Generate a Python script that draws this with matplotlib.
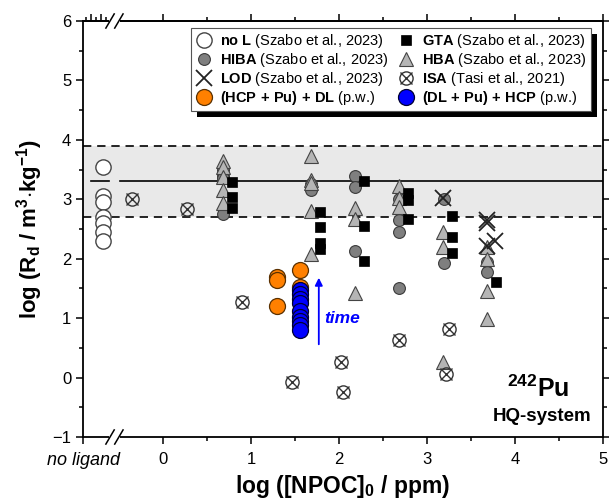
import numpy as np
import matplotlib
matplotlib.use("Agg")
import matplotlib.pyplot as plt
from matplotlib.patches import Rectangle
from matplotlib.transforms import IdentityTransform

plt.rcParams['font.family'] = ['Liberation Sans', 'DejaVu Sans']
plt.rcParams['mathtext.fontset'] = 'custom'
plt.rcParams['mathtext.rm'] = 'Liberation Sans'
plt.rcParams['mathtext.it'] = 'Liberation Sans:italic'
plt.rcParams['mathtext.bf'] = 'Liberation Sans:bold'

# ---- data: log Rd vs log [NPOC]0 ----
noL_x = [-0.68, -0.68, -0.68, -0.68, -0.68, -0.68, -0.68]
noL_y = [3.55, 3.05, 2.95, 2.70, 2.60, 2.45, 2.30]

hiba_x = [0.68, 0.68, 0.68, 0.68, 1.68, 1.68, 2.18, 2.18, 2.18,
          2.68, 2.68, 2.68, 2.68, 3.19, 3.19, 3.68, 3.68]
hiba_y = [3.50, 3.40, 3.35, 2.75, 3.25, 3.15, 3.40, 3.20, 2.13,
          3.00, 2.65, 2.45, 1.50, 3.00, 1.93, 1.95, 1.78]

gta_x = [0.78, 0.78, 0.78, 1.78, 1.78, 1.78, 1.78, 2.28, 2.28, 2.28,
         2.78, 2.78, 2.78, 3.28, 3.28, 3.28, 3.78]
gta_y = [3.29, 3.04, 2.85, 2.78, 2.53, 2.27, 2.17, 3.30, 2.55, 1.96,
         3.10, 2.98, 2.67, 2.72, 2.37, 2.10, 1.61]

hba_x = [0.68, 0.68, 0.68, 0.68, 0.68, 1.68, 1.68, 1.68, 1.68, 1.68,
         2.18, 2.18, 2.18, 2.68, 2.68, 2.68, 3.18, 3.18, 3.18,
         3.68, 3.68, 3.68, 3.68]
hba_y = [3.65, 3.55, 3.37, 3.15, 2.93, 3.72, 3.32, 3.28, 2.80, 2.08,
         2.85, 2.66, 1.43, 3.22, 3.03, 2.87, 2.45, 2.20, 0.26,
         2.20, 2.00, 1.45, 0.98]

lod_x = [3.18, 3.68, 3.68, 3.68, 3.77]
lod_y = [3.03, 2.65, 2.60, 2.22, 2.30]

isa_x = [-0.35, 0.27, 0.90, 1.47, 2.02, 2.04, 2.68, 3.25, 3.22]
isa_y = [3.00, 2.84, 1.27, -0.07, 0.26, -0.24, 0.63, 0.82, 0.06]

hcp_dl_x = [1.30, 1.30, 1.30, 1.56, 1.56]
hcp_dl_y = [1.70, 1.65, 1.20, 1.81, 1.53]

dl_hcp_x = [1.56, 1.56, 1.56, 1.56, 1.56, 1.56, 1.56, 1.56, 1.56]
dl_hcp_y = [1.47, 1.40, 1.33, 1.25, 1.12, 1.02, 0.95, 0.88, 0.80]

# reference level (solid) and its band (dashed)
rd_mean = 3.3
rd_low, rd_high = 2.7, 3.9

x_left = -0.91
xtick_pos = [x_left, 0, 1, 2, 3, 4, 5]
xtick_lab = ['no ligand', '0', '1', '2', '3', '4', '5']

fig = plt.figure(figsize=(6.09, 5.00), dpi=100)
ax = fig.add_axes([83/609, 1-437/500, 520/609, 416/500])

ax.set_xlim(x_left, 5)
ax.set_ylim(-1, 6)

# band + lines
ax.axhspan(rd_low, rd_high, color='#e9e9e9', zorder=0, lw=0)
ax.axhline(rd_low, color='k', ls=(0, (5, 3.5)), lw=1.2, zorder=1)
ax.axhline(rd_high, color='k', ls=(0, (5, 3.5)), lw=1.2, zorder=1)
ax.plot([-0.82, -0.62], [rd_mean, rd_mean], color='k', lw=1.2, zorder=1)
ax.plot([-0.49, 5], [rd_mean, rd_mean], color='k', lw=1.2, zorder=1)

# series
h_noL, = ax.plot(noL_x, noL_y, 'o', ms=11, mfc='white', mec='#444444', mew=1.0, zorder=3, ls='none')
h_hiba, = ax.plot(hiba_x, hiba_y, 'o', ms=8.5, mfc='#7f7f7f', mec='#3a3a3a', mew=0.8, zorder=3, ls='none')
h_hba, = ax.plot(hba_x, hba_y, '^', ms=9.5, mfc='#b5b5b5', mec='#444444', mew=0.8, zorder=4, ls='none')
h_gta, = ax.plot(gta_x, gta_y, 's', ms=7.5, mfc='black', mec='black', mew=0.5, zorder=4, ls='none')
h_lod, = ax.plot(lod_x, lod_y, 'x', ms=11.5, color='#222222', mew=1.3, zorder=5, ls='none')
h_isa_o, = ax.plot(isa_x, isa_y, 'o', ms=9.5, mfc='none', mec='#333333', mew=1.0, zorder=5, ls='none')
h_isa_x, = ax.plot(isa_x, isa_y, 'x', ms=8, color='#333333', mew=1.0, zorder=5, ls='none')
h_or, = ax.plot(hcp_dl_x, hcp_dl_y, 'o', ms=11.5, mfc='#ff8000', mec='#5a3000', mew=0.9, zorder=5, ls='none')
h_bl, = ax.plot(dl_hcp_x, dl_hcp_y, 'o', ms=11.5, mfc='#0000ff', mec='#000033', mew=0.9, zorder=6, ls='none')

# time arrow
ax.annotate('', xy=(1.77, 1.68), xytext=(1.77, 0.56),
            arrowprops=dict(arrowstyle='-|>', color='#0000ff', lw=1.3, mutation_scale=11,
                            shrinkA=0, shrinkB=0), zorder=6)
ax.text(1.83, 1.0, 'time', color='#0000ff', fontsize=12.5, fontweight='bold',
        fontstyle='italic', ha='left', va='center')

# annotations
ax.text(4.26, -0.33, r'$^{\mathbf{242}}$Pu', fontsize=18, fontweight='bold',
        ha='center', va='baseline')
ax.text(4.31, -0.73, 'HQ-system', fontsize=13.5, fontweight='bold',
        ha='center', va='baseline')

# axes & ticks
ax.set_xticks(xtick_pos)
ax.set_xticklabels(xtick_lab)
ax.set_xticks([0.5, 1.5, 2.5, 3.5, 4.5], minor=True)
ax.set_yticks(np.arange(-1, 7, 1))
ax.set_yticks(np.arange(-0.5, 6, 1), minor=True)
ax.set_yticklabels(['\u22121', '0', '1', '2', '3', '4', '5', '6'])
ax.tick_params(which='both', direction='out', width=1.1, labelsize=12, right=True)
ax.tick_params(which='major', length=5)
ax.tick_params(which='minor', length=3)
ax.tick_params(axis='x', pad=6)
nl = ax.get_xticklabels()[0]
nl.set_fontstyle('italic')
nl.set_fontsize(13)
for sp in ax.spines.values():
    sp.set_linewidth(1.3)

top = ax.secondary_xaxis('top')
top.set_xticks([-0.82, -0.70, 0, 1, 2, 3, 4, 5])
top.set_xticks([-0.875, -0.76, -0.65, 0.5, 1.5, 2.5, 3.5, 4.5], minor=True)
top.tick_params(which='both', direction='out', width=1.1, labeltop=False)
top.tick_params(which='major', length=5)
top.tick_params(which='minor', length=3)
top.spines['top'].set_linewidth(1.3)

ax.set_xlabel(r'log ([NPOC]$_{\mathbf{0}}$ / ppm)', fontsize=16.5, fontweight='bold', labelpad=3)
ax.set_ylabel(r'log (R$_{\mathbf{d}}$ / m$^{\mathbf{3}}$$\cdot$kg$^{\mathbf{-1}}$)',
              fontsize=16, fontweight='bold', labelpad=5)

# axis break marks on bottom and top spines
for yb in (0, 1):
    ax.plot([0.050, 0.072], [yb, yb], transform=ax.transAxes, color='white', lw=4,
            clip_on=False, zorder=10, solid_capstyle='butt')
    for xb in (0.052, 0.069):
        ax.plot([xb - 0.008, xb + 0.008], [yb - 0.017, yb + 0.017], transform=ax.transAxes,
                color='k', lw=1.1, clip_on=False, zorder=11)

# legend
lab = [r'$\mathbf{no\ L}$ (Szabo et al., 2023)',
       r'$\mathbf{HIBA}$ (Szabo et al., 2023)',
       r'$\mathbf{LOD}$ (Szabo et al., 2023)',
       r'$\mathbf{(HCP\,+\,Pu)\,+\,DL}$ (p.w.)',
       r'$\mathbf{GTA}$ (Szabo et al., 2023)',
       r'$\mathbf{HBA}$ (Szabo et al., 2023)',
       r'$\mathbf{ISA}$ (Tasi et al., 2021)',
       r'$\mathbf{(DL\,+\,Pu)\,+\,HCP}$ (p.w.)']
hnd = [h_noL, h_hiba, h_lod, h_or, h_gta, h_hba, (h_isa_o, h_isa_x), h_bl]
leg = ax.legend(hnd, lab, ncol=2, loc='upper right', bbox_to_anchor=(0.977, 0.983),
                fontsize=10.5, frameon=True, fancybox=False, edgecolor='#555555',
                framealpha=1, borderpad=0.3, labelspacing=0.05, handlelength=1.2,
                handletextpad=0.5, columnspacing=0.6, borderaxespad=0, numpoints=1)
leg.get_frame().set_linewidth(0.8)
leg.set_zorder(20)

fig.canvas.draw()
bb = leg.get_window_extent()
shadow = Rectangle((bb.x0 + 6, bb.y0 - 6), bb.width, bb.height, transform=IdentityTransform(),
                   facecolor='black', edgecolor='none', zorder=19, clip_on=False)
ax.add_patch(shadow)

fig.savefig('out.png', dpi=100)
